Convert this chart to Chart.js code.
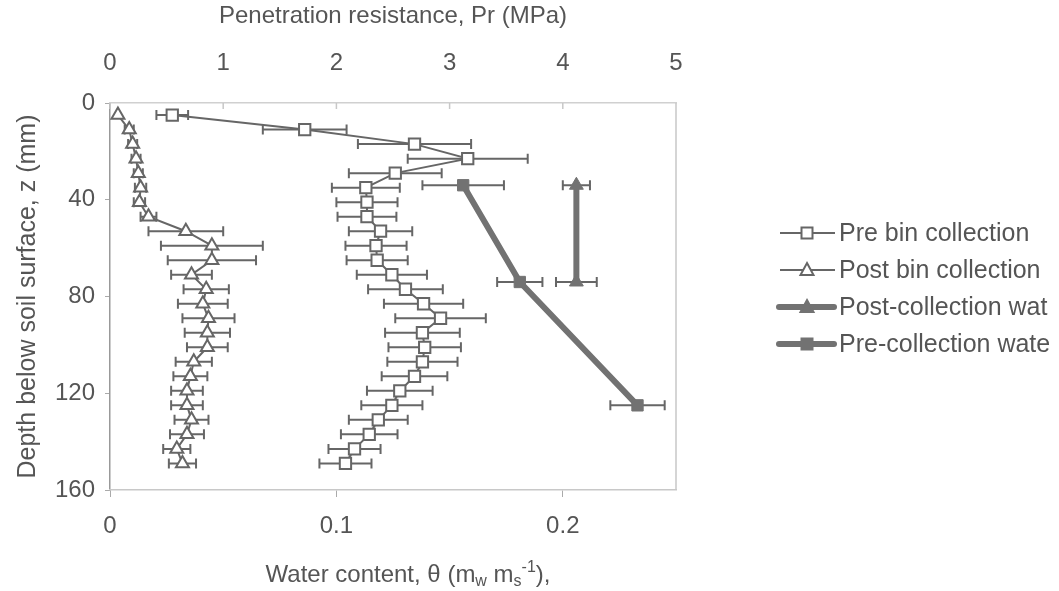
<!DOCTYPE html>
<html lang="en">
  <head>
    <meta charset="UTF-8" />
    <title>Penetration resistance and water content profiles</title>
    <script src="https://cdn.jsdelivr.net/npm/chart.js"></script>
    <style>
      body {
        margin: 0;
        background: #fff;
      }
      canvas {
        display: block;
      }
    </style>
  </head>
  <body>
    <canvas id="profileChart" width="1059" height="591"></canvas>
    <script>
      // depth of each penetrometer reading (mm)
      const depths = [
        5, 11, 17, 23, 29, 35, 41, 47, 53, 59, 65, 71, 77, 83, 89, 95, 101,
        107, 113, 119, 125, 131, 137, 143, 149,
      ];

      // penetration resistance before / after bin collection (MPa) with +/- error
      const preBinPr = [
        0.55, 1.72, 2.69, 3.16, 2.52, 2.26, 2.27, 2.27, 2.39, 2.35, 2.36, 2.49,
        2.61, 2.77, 2.92, 2.76, 2.78, 2.76, 2.69, 2.56, 2.49, 2.37, 2.29, 2.16,
        2.08,
      ];
      const preBinErr = [
        0.14, 0.37, 0.5, 0.53, 0.41, 0.3, 0.27, 0.26, 0.28, 0.27, 0.27, 0.31,
        0.33, 0.35, 0.4, 0.33, 0.32, 0.31, 0.29, 0.29, 0.27, 0.26, 0.25, 0.23,
        0.23,
      ];
      const postBinPr = [
        0.07, 0.17, 0.2, 0.23, 0.25, 0.27, 0.26, 0.34, 0.67, 0.9, 0.9, 0.72,
        0.85, 0.82, 0.87, 0.86, 0.86, 0.74, 0.71, 0.68, 0.68, 0.72, 0.68, 0.59,
        0.64,
      ];
      const postBinErr = [
        0, 0.04, 0.04, 0.04, 0.04, 0.05, 0.05, 0.07, 0.33, 0.45, 0.39, 0.18,
        0.2, 0.22, 0.23, 0.2, 0.18, 0.16, 0.15, 0.14, 0.14, 0.15, 0.15, 0.12,
        0.12,
      ];

      // gravimetric water content samples
      const preWaterDepths = [34, 74, 125];
      const preWater = [0.156, 0.181, 0.233];
      const preWaterErr = [0.018, 0.01, 0.012];
      const postWaterDepths = [34, 74];
      const postWater = [0.206, 0.206];
      const postWaterErr = [0.006, 0.009];

      const seriesNames = [
        "Pre bin collection",
        "Post bin collection",
        "Post-collection wat",
        "Pre-collection wate",
      ];

      const prTicks = [0, 1, 2, 3, 4, 5];
      const waterTicks = [0, 0.1, 0.2];
      const depthTicks = [0, 40, 80, 120, 160];

      const FONT = "'Liberation Sans', Arial, sans-serif";
      const INK = "#555";
      const MARK = "#666";
      const THICK = "#727272";

      Chart.defaults.font.family = FONT;
      Chart.defaults.color = INK;

      function toPoints(xs, ys) {
        return xs.map((x, i) => ({ x: x, y: ys[i] }));
      }

      // horizontal error bars with end caps, drawn under the lines
      const errorBars = {
        id: "errorBars",
        beforeDatasetsDraw(chart) {
          const ctx = chart.ctx;
          const yScale = chart.scales.y;
          chart.data.datasets.forEach((ds) => {
            if (!ds.xErr) return;
            const xScale = chart.scales[ds.xAxisID];
            ctx.save();
            ctx.strokeStyle = MARK;
            ctx.lineWidth = 2;
            ds.data.forEach((p, i) => {
              const e = ds.xErr[i];
              if (!e) return;
              const y = yScale.getPixelForValue(p.y);
              const x0 = xScale.getPixelForValue(p.x - e);
              const x1 = xScale.getPixelForValue(p.x + e);
              ctx.beginPath();
              ctx.moveTo(x0, y);
              ctx.lineTo(x1, y);
              ctx.moveTo(x0, y - 5);
              ctx.lineTo(x0, y + 5);
              ctx.moveTo(x1, y - 5);
              ctx.lineTo(x1, y + 5);
              ctx.stroke();
            });
            ctx.restore();
          });
        },
      };

      // right edge of the plot box and the short inward ticks of the top axis
      const frame = {
        id: "frame",
        beforeDatasetsDraw(chart) {
          const { ctx, chartArea } = chart;
          const top = chart.scales.pr;
          ctx.save();
          ctx.strokeStyle = "#c8c8c8";
          ctx.lineWidth = 1.5;
          ctx.beginPath();
          ctx.moveTo(chartArea.right, chartArea.top);
          ctx.lineTo(chartArea.right, chartArea.bottom);
          top.ticks.forEach((t) => {
            const x = top.getPixelForValue(t.value);
            ctx.moveTo(x, chartArea.top);
            ctx.lineTo(x, chartArea.top + 6);
          });
          ctx.stroke();
          ctx.restore();
        },
      };

      function drawMarker(ctx, style, x, y, filled) {
        ctx.save();
        ctx.fillStyle = filled ? THICK : "#fff";
        ctx.strokeStyle = filled ? THICK : MARK;
        ctx.lineWidth = 2;
        ctx.beginPath();
        if (style === "rect") {
          ctx.rect(x - 5.5, y - 5.5, 11, 11);
        } else {
          ctx.moveTo(x, y - 7);
          ctx.lineTo(x + 6.5, y + 5);
          ctx.lineTo(x - 6.5, y + 5);
          ctx.closePath();
        }
        ctx.fill();
        ctx.stroke();
        ctx.restore();
      }

      const sideLegend = {
        id: "sideLegend",
        afterDraw(chart) {
          const ctx = chart.ctx;
          const rows = [
            { y: 233, style: "rect", thick: false },
            { y: 270, style: "triangle", thick: false },
            { y: 307, style: "triangle", thick: true },
            { y: 344, style: "rect", thick: true },
          ];
          ctx.save();
          rows.forEach((r, i) => {
            ctx.strokeStyle = r.thick ? THICK : MARK;
            ctx.lineWidth = r.thick ? 6 : 2;
            ctx.lineCap = r.thick ? "round" : "butt";
            ctx.beginPath();
            ctx.moveTo(r.thick ? 779 : 780, r.y);
            ctx.lineTo(r.thick ? 834 : 835, r.y);
            ctx.stroke();
            drawMarker(ctx, r.style, 807, r.y, r.thick);
            ctx.fillStyle = INK;
            ctx.font = "25px " + FONT;
            ctx.textBaseline = "middle";
            ctx.textAlign = "left";
            ctx.fillText(seriesNames[i], 839, r.y + 1);
          });
          ctx.restore();
        },
      };

      // bottom axis title, needs sub- and superscripts
      const waterTitle = {
        id: "waterTitle",
        afterDraw(chart) {
          const ctx = chart.ctx;
          const big = "24px " + FONT;
          const small = "16px " + FONT;
          const parts = [
            { t: "Water content, \u03b8 (m", f: big, dy: 0 },
            { t: "w", f: small, dy: 4 },
            { t: " m", f: big, dy: 0 },
            { t: "s", f: small, dy: 4 },
            { t: "-1", f: small, dy: -10 },
            { t: "),", f: big, dy: 0 },
          ];
          ctx.save();
          ctx.fillStyle = INK;
          ctx.textBaseline = "alphabetic";
          ctx.textAlign = "left";
          let w = 0;
          parts.forEach((p) => {
            ctx.font = p.f;
            p.w = ctx.measureText(p.t).width;
            w += p.w;
          });
          let x = 408 - w / 2;
          parts.forEach((p) => {
            ctx.font = p.f;
            ctx.fillText(p.t, x, 582 + p.dy);
            x += p.w;
          });
          ctx.restore();
        },
      };

      const ctx = document.getElementById("profileChart").getContext("2d");

      new Chart(ctx, {
        type: "scatter",
        data: {
          datasets: [
            {
              label: seriesNames[0],
              xAxisID: "pr",
              data: toPoints(preBinPr, depths),
              xErr: preBinErr,
              showLine: true,
              borderColor: MARK,
              borderWidth: 2,
              pointStyle: "rect",
              pointRadius: 8,
              pointBorderWidth: 2,
              pointBorderColor: MARK,
              pointBackgroundColor: "#fff",
            },
            {
              label: seriesNames[1],
              xAxisID: "pr",
              data: toPoints(postBinPr, depths),
              xErr: postBinErr,
              showLine: true,
              borderColor: MARK,
              borderWidth: 2,
              pointStyle: "triangle",
              pointRadius: 7.5,
              pointBorderWidth: 2,
              pointBorderColor: MARK,
              pointBackgroundColor: "#fff",
            },
            {
              label: seriesNames[2],
              xAxisID: "x",
              data: toPoints(postWater, postWaterDepths),
              xErr: postWaterErr,
              showLine: true,
              borderColor: THICK,
              borderWidth: 6,
              pointStyle: "triangle",
              pointRadius: 8,
              pointBorderWidth: 1,
              pointBorderColor: THICK,
              pointBackgroundColor: THICK,
            },
            {
              label: seriesNames[3],
              xAxisID: "x",
              data: toPoints(preWater, preWaterDepths),
              xErr: preWaterErr,
              showLine: true,
              borderColor: THICK,
              borderWidth: 6,
              pointStyle: "rect",
              pointRadius: 8,
              pointBorderWidth: 1,
              pointBorderColor: THICK,
              pointBackgroundColor: THICK,
            },
          ],
        },
        options: {
          responsive: false,
          animation: false,
          layout: { padding: { right: 383 } },
          plugins: {
            legend: { display: false },
            tooltip: { enabled: false },
          },
          scales: {
            y: {
              position: "left",
              reverse: true,
              min: 0,
              max: 160,
              afterFit: (s) => {
                s.width = 110;
              },
              afterBuildTicks: (s) => {
                s.ticks = depthTicks.map((v) => ({ value: v }));
              },
              ticks: { font: { size: 24 }, padding: 10 },
              grid: {
                drawOnChartArea: false,
                tickLength: 5,
                color: "#aaa",
              },
              border: { color: "#999", width: 1.5 },
              title: {
                display: true,
                text: "Depth below soil surface, z (mm)",
                font: { size: 25 },
                padding: { top: 13 },
              },
            },
            pr: {
              position: "top",
              min: 0,
              max: 5,
              afterFit: (s) => {
                s.height = 103;
              },
              afterBuildTicks: (s) => {
                s.ticks = prTicks.map((v) => ({ value: v }));
              },
              ticks: { font: { size: 24 }, padding: 25 },
              grid: { drawOnChartArea: false, drawTicks: false },
              border: { color: "#d0d0d0", width: 1.5 },
              title: {
                display: true,
                text: "Penetration resistance, Pr (MPa)",
                font: { size: 24 },
                padding: { top: 2 },
              },
            },
            x: {
              position: "bottom",
              min: 0,
              max: 0.25,
              afterFit: (s) => {
                s.height = 101;
              },
              afterBuildTicks: (s) => {
                s.ticks = waterTicks.map((v) => ({ value: v }));
              },
              ticks: {
                font: { size: 24 },
                padding: 15,
                callback: (v) => String(v),
              },
              grid: {
                drawOnChartArea: false,
                tickLength: 7,
                color: "#aaa",
              },
              border: { color: "#c8c8c8", width: 1.5 },
            },
          },
        },
        plugins: [errorBars, frame, sideLegend, waterTitle],
      });
    </script>
  </body>
</html>
